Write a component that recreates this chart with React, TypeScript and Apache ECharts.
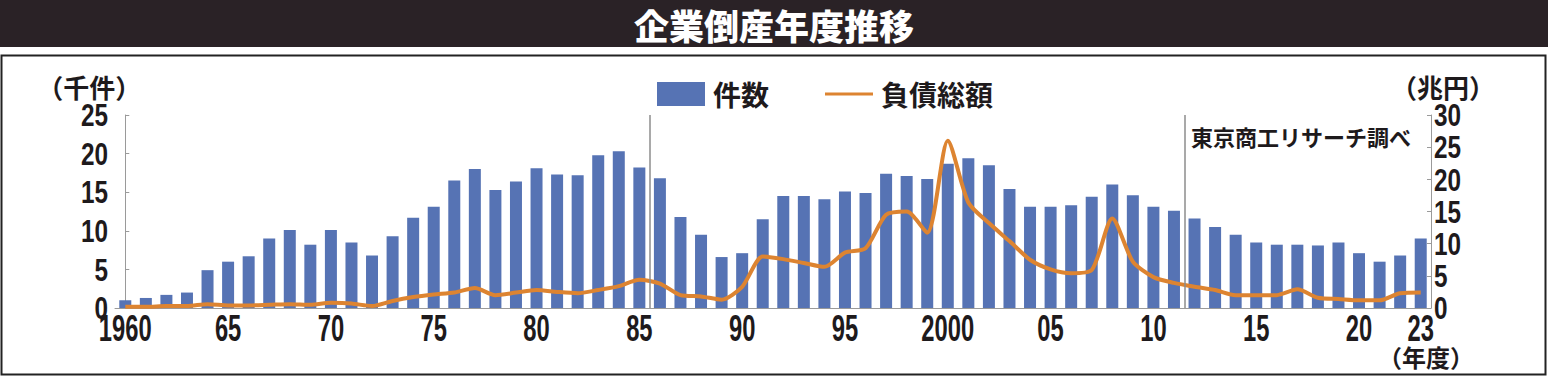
import React, { useEffect, useRef } from "react";
import * as echarts from "echarts";

const years = [
  "1960", "1961", "1962", "1963", "1964", "1965", "1966", "1967", "1968", "1969",
  "1970", "1971", "1972", "1973", "1974", "1975", "1976", "1977", "1978", "1979",
  "1980", "1981", "1982", "1983", "1984", "1985", "1986", "1987", "1988", "1989",
  "1990", "1991", "1992", "1993", "1994", "1995", "1996", "1997", "1998", "1999",
  "2000", "2001", "2002", "2003", "2004", "2005", "2006", "2007", "2008", "2009",
  "2010", "2011", "2012", "2013", "2014", "2015", "2016", "2017", "2018", "2019",
  "2020", "2021", "2022", "2023",
];

// 件数（千件）
const counts = [
  1.0, 1.3, 1.7, 2.0, 4.9, 6.0, 6.7, 9.0, 10.1, 8.2,
  10.1, 8.5, 6.8, 9.3, 11.7, 13.1, 16.5, 18.0, 15.3, 16.4,
  18.1, 17.3, 17.2, 19.8, 20.3, 18.2, 16.8, 11.8, 9.5, 6.6,
  7.1, 11.5, 14.5, 14.5, 14.1, 15.1, 14.9, 17.4, 17.1, 16.7,
  18.7, 19.4, 18.5, 15.4, 13.1, 13.1, 13.3, 14.4, 16.0, 14.6,
  13.1, 12.6, 11.6, 10.5, 9.5, 8.5, 8.2, 8.2, 8.1, 8.5,
  7.1, 6.0, 6.8, 9.0,
];

// 負債総額（兆円）
const debts = [
  0.2, 0.2, 0.3, 0.3, 0.6, 0.4, 0.4, 0.5, 0.6, 0.5,
  0.8, 0.7, 0.3, 1.1, 1.7, 2.1, 2.4, 3.1, 2.0, 2.4,
  2.8, 2.5, 2.3, 2.8, 3.4, 4.4, 3.8, 2.0, 1.8, 1.3,
  3.3, 8.0, 7.6, 7.0, 6.4, 8.6, 9.3, 14.5, 15.0, 11.7,
  26.0, 16.4, 13.2, 10.4, 7.5, 6.0, 5.4, 5.9, 13.9, 7.2,
  4.8, 3.9, 3.3, 2.8, 2.0, 2.0, 2.0, 2.9, 1.6, 1.4,
  1.2, 1.2, 2.3, 2.4,
];

// vertical divider lines are drawn after these fiscal years
const dividerAfter = ["1985", "2011"];

const leftTicks = { min: 0, max: 25, interval: 5 };
const rightTicks = { min: 0, max: 30, interval: 5 };

const TITLE = "企業倒産年度推移";
const SOURCE = "東京商工リサーチ調べ";

const NUM_FONT = "'Liberation Sans', Arial, sans-serif";
const JP_FONT = "'Noto Sans CJK JP', 'Noto Sans', sans-serif";
const INK = "#1e1a1c";
const X_FONT_SIZE = 36;
const Y_FONT_SIZE = 32;

export default function App() {
  const ref = useRef<HTMLDivElement>(null);

  useEffect(() => {
    if (!ref.current) return;
    const chart = echarts.init(ref.current, null, { renderer: "svg" });
    const last = years.length - 1;
    const option: any = {
      animation: false,
      backgroundColor: "#ffffff",
      graphic: [
        {
          type: "rect",
          z: -10,
          silent: true,
          shape: { x: 0, y: 0, width: 1548, height: 47 },
          style: { fill: "#2a2226" },
        },
        {
          type: "rect",
          z: -10,
          silent: true,
          shape: { x: 1.5, y: 55.5, width: 1544, height: 319 },
          style: { fill: "none", stroke: "#222", lineWidth: 2 },
        },
      ],
      title: [
        {
          text: TITLE,
          left: "center",
          top: 2,
          textStyle: {
            color: "#ffffff",
            fontSize: 35,
            fontWeight: 900,
            fontFamily: JP_FONT,
          },
        },
        {
          text: SOURCE,
          left: 1186,
          top: 120,
          textStyle: {
            color: INK,
            fontSize: 22,
            fontWeight: "bold",
            fontFamily: JP_FONT,
          },
        },
      ],
      legend: {
        left: 657,
        top: 80,
        padding: 0,
        itemWidth: 48,
        itemHeight: 24,
        itemGap: 56,
        data: [
          { name: "件数", icon: "rect" },
          {
            name: "負債総額",
            icon: "path://M0,0 L0.01,0 L0,0.01 Z M0,10.5 L48,10.5 L48,13.5 L0,13.5 Z M0,24 L0.01,24 L0,23.99 Z",
            itemStyle: { color: "#dd8431" },
          },
        ],
        textStyle: {
          color: INK,
          fontSize: 28,
          fontWeight: "bold",
          fontFamily: JP_FONT,
          padding: [0, 0, 0, 3],
        },
      },
      grid: { left: 115, right: 117, top: 115, bottom: 68, containLabel: false },
      xAxis: [
        {
          type: "category",
          data: years,
          boundaryGap: true,
          name: "（年度）",
          nameLocation: "end",
          nameGap: -53,
          nameMoveOverlap: false,
          nameTextStyle: {
            color: INK,
            fontSize: 24,
            fontWeight: "bold",
            fontFamily: JP_FONT,
            align: "left",
            verticalAlign: "top",
            padding: [37, 0, 0, 0],
          },
          axisLine: { lineStyle: { color: "#9a9a9a", width: 1 } },
          axisTick: { show: false },
          axisLabel: {
            interval: (i: number) => i % 5 === 0 || i === last,
            hideOverlap: false,
            formatter: (v: string) => (v === "1960" || v === "2000" ? v : v.slice(2)),
            color: INK,
            fontSize: X_FONT_SIZE,
            lineHeight: 36,
            fontWeight: "bold",
            fontFamily: NUM_FONT,
            margin: 2,
          },
        },
        {
          type: "value",
          show: false,
          min: -0.5,
          max: years.length - 0.5,
        },
      ],
      yAxis: [
        {
          type: "value",
          position: "left",
          ...leftTicks,
          name: "（千件）",
          nameLocation: "end",
          nameGap: 16,
          nameTextStyle: {
            color: INK,
            fontSize: 26,
            fontWeight: "bold",
            fontFamily: JP_FONT,
            padding: [0, 72, 0, 0],
          },
          axisLine: { show: true, lineStyle: { color: "#9a9a9a", width: 1 } },
          axisTick: { show: true, inside: true, length: 4, lineStyle: { color: "#9a9a9a" } },
          splitLine: { show: false },
          axisLabel: {
            color: INK,
            fontSize: Y_FONT_SIZE,
            fontWeight: "bold",
            fontFamily: NUM_FONT,
            margin: 7,
          },
        },
        {
          type: "value",
          position: "right",
          ...rightTicks,
          name: "（兆円）",
          nameLocation: "end",
          nameGap: 16,
          nameTextStyle: {
            color: INK,
            fontSize: 26,
            fontWeight: "bold",
            fontFamily: JP_FONT,
            padding: [0, 0, 0, 24],
          },
          axisLine: { show: true, lineStyle: { color: "#9a9a9a", width: 1 } },
          axisTick: { show: true, inside: true, length: 4, lineStyle: { color: "#9a9a9a" } },
          splitLine: { show: false },
          axisLabel: {
            color: INK,
            fontSize: Y_FONT_SIZE,
            fontWeight: "bold",
            fontFamily: NUM_FONT,
            margin: 3,
          },
        },
      ],
      series: [
        {
          name: "件数",
          type: "bar",
          xAxisIndex: 0,
          yAxisIndex: 0,
          data: counts,
          barWidth: 12,
          itemStyle: { color: "#5673b4" },
          z: 2,
        },
        {
          name: "負債総額",
          type: "line",
          xAxisIndex: 0,
          yAxisIndex: 1,
          data: debts,
          symbol: "none",
          smooth: 0.25,
          lineStyle: { color: "#dd8431", width: 4 },
          itemStyle: { color: "#dd8431" },
          z: 4,
        },
        {
          name: "divider",
          type: "line",
          xAxisIndex: 1,
          yAxisIndex: 0,
          data: [],
          silent: true,
          markLine: {
            silent: true,
            symbol: "none",
            label: { show: false },
            lineStyle: { color: "#8c8c8c", width: 1.5, type: "solid" },
            data: dividerAfter.map((y) => ({ xAxis: years.indexOf(y) + 0.5 })),
          },
          z: 3,
        },
      ],
    };
    chart.setOption(option);

    // narrow the numeric tick labels horizontally (condensed newspaper style)
    try {
      const zr: any = chart.getZr();
      const list: any[] = zr.storage.getDisplayList(true);
      list.forEach((el: any) => {
        const st = el && el.style;
        if (!st || typeof st.text !== "string" || !/^\d+$/.test(st.text)) return;
        const font = String(st.font || "");
        if (font.indexOf(X_FONT_SIZE + "px") >= 0) {
          el.scaleX = 0.66;
        } else if (font.indexOf(Y_FONT_SIZE + "px") >= 0) {
          el.scaleX = 0.76;
        } else {
          return;
        }
        el.markRedraw && el.markRedraw();
      });
      zr.refreshImmediately();
    } catch (e) {
      // ignore
    }

    return () => chart.dispose();
  }, []);

  return (
    <div
      ref={ref}
      style={{ position: "absolute", left: 0, top: 0, width: 1548, height: 376 }}
    />
  );
}
